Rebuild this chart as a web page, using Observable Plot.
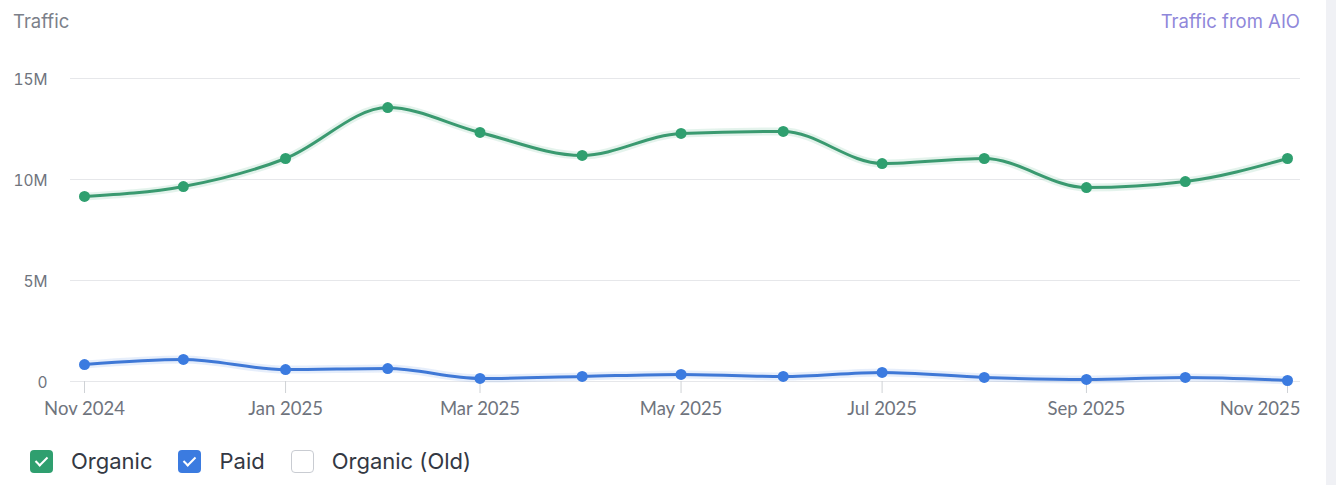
<!DOCTYPE html>
<html><head><meta charset="utf-8">
<script src="https://cdn.jsdelivr.net/npm/d3@7"></script>
<script src="https://cdn.jsdelivr.net/npm/@observablehq/plot@0.6"></script>
<style>
body{margin:0;background:#fff;font-family:Inter,"Noto Sans",sans-serif;}
#wrap{position:relative;width:1336px;height:485px;overflow:hidden;background:#fff;}
#title{position:absolute;left:13px;top:10px;font-size:18.5px;color:#7b8089;}
#aio{position:absolute;right:36px;top:10px;font-size:18.5px;color:#8f87da;}
#chart{position:absolute;left:0;top:40px;}
#strip{position:absolute;left:1326px;top:0;width:10px;height:485px;background:#f0f1f5;}
#legend{position:absolute;left:30px;top:448px;display:flex;align-items:center;font-size:22px;color:#333843;}
.box{width:23px;height:23px;border-radius:4px;box-sizing:border-box;position:relative;margin-right:18px;}
.box.on::after{content:"";position:absolute;left:8px;top:4px;width:5px;height:10px;border:solid #fff;border-width:0 2px 2px 0;transform:rotate(45deg);}
.item{display:flex;align-items:center;margin-right:26px;}
</style></head><body>
<div id="wrap">
<div id="title">Traffic</div>
<div id="aio">Traffic from AIO</div>
<div id="chart"></div>
<div id="legend"></div>
<div id="strip"></div>
</div>
<script>
const months = ["2024-11","2024-12","2025-01","2025-02","2025-03","2025-04","2025-05","2025-06","2025-07","2025-08","2025-09","2025-10","2025-11"];
const organic = [9.16e6,9.65e6,11.04e6,13.56e6,12.33e6,11.19e6,12.28e6,12.38e6,10.79e6,11.04e6,9.6e6,9.9e6,11.04e6];
const paid = [0.84e6,1.09e6,0.59e6,0.64e6,0.15e6,0.25e6,0.35e6,0.25e6,0.45e6,0.2e6,0.1e6,0.2e6,0.05e6];
const yTicks = [0,5e6,10e6,15e6];
const xTickMonths = ["2024-11","2025-01","2025-03","2025-05","2025-07","2025-09","2025-11"];
const legendItems = [
  {label:"Organic", color:"#2f9f6f", on:true},
  {label:"Paid", color:"#3b7be0", on:true},
  {label:"Organic (Old)", color:"#ffffff", on:false}
];

const parse = d3.utcParse("%Y-%m");
const green = "#2f9f6f", greenLine = "#3a9a70";
const blue = "#3b7be0", blueLine = "#3f78d6";
const rows = months.map((m,i)=>({date:parse(m), organic:organic[i], paid:paid[i]}));
const fmtY = d => d===0 ? "0" : (d/1e6)+"M";
const fmtX = d3.utcFormat("%b %Y");
const xTicks = xTickMonths.map(parse);
const xFont = "Lato, Inter, sans-serif";

const chart = Plot.plot({
  width:1336, height:392,
  marginLeft:84, marginRight:49, marginTop:38, marginBottom:51,
  style:{fontFamily:"Inter, 'Noto Sans', sans-serif", background:"transparent"},
  x:{type:"utc", domain:[parse(months[0]), parse(months[months.length-1])]},
  y:{domain:[0,15e6]},
  marks:[
    Plot.ruleY(yTicks,{stroke:"#e6e7ea", strokeWidth:1.2, insetLeft:-14, insetRight:-13}),
    Plot.axisY({ticks:yTicks, tickFormat:fmtY, tickSize:0, tickPadding:37, fontSize:15.5, fill:"#6f747d", dy:2}),
    Plot.axisX({ticks:xTicks, tickFormat:()=>"", tickSize:12, stroke:"#cfd2d6"}),
    Plot.axisX({ticks:xTicks.slice(0,-1), tickFormat:fmtX, tickSize:0, tickPadding:20, fontSize:18.5, fontFamily:xFont, fill:"#6f747d"}),
    Plot.axisX({ticks:xTicks.slice(-1), tickFormat:fmtX, tickSize:0, tickPadding:20, fontSize:18.5, fontFamily:xFont, fill:"#6f747d", textAnchor:"end", dx:13}),
    Plot.line(rows,{x:"date", y:"organic", curve:"monotone-x", stroke:green, strokeWidth:8, strokeOpacity:0.13}),
    Plot.line(rows,{x:"date", y:"organic", curve:"monotone-x", stroke:greenLine, strokeWidth:3}),
    Plot.dot(rows,{x:"date", y:"organic", r:5.5, fill:green}),
    Plot.line(rows,{x:"date", y:"paid", curve:"monotone-x", stroke:blue, strokeWidth:8, strokeOpacity:0.13}),
    Plot.line(rows,{x:"date", y:"paid", curve:"monotone-x", stroke:blueLine, strokeWidth:3}),
    Plot.dot(rows,{x:"date", y:"paid", r:5.5, fill:blue})
  ]
});
document.getElementById("chart").appendChild(chart);

const legend = document.getElementById("legend");
legendItems.forEach(it=>{
  const item = document.createElement("div"); item.className="item";
  const box = document.createElement("span");
  box.className = "box" + (it.on ? " on" : "");
  box.style.background = it.color;
  box.style.border = it.on ? "none" : "1.5px solid #c9ccd2";
  const t = document.createElement("span"); t.textContent = it.label;
  item.appendChild(box); item.appendChild(t); legend.appendChild(item);
});
</script>
</body></html>
